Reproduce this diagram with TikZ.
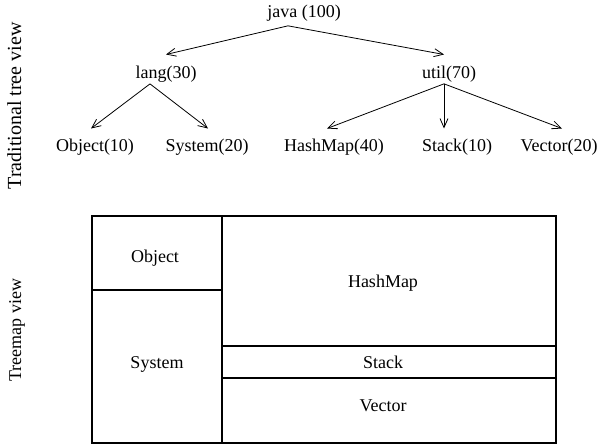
\documentclass[tikz,border=0pt]{standalone}
\usepackage{fontspec}
\setmainfont{Liberation Serif}
\usetikzlibrary{arrows.meta}
\begin{document}
\begin{tikzpicture}[x=1pt,y=-1pt,
  lbl/.style={font=\fontsize{18}{20}\selectfont, inner sep=0pt, outer sep=0pt, anchor=base},
  arr/.style={line width=0.8pt, -{Straight Barb[length=9pt,width=8pt]}},
  box/.style={line width=1.1pt}]
\useasboundingbox (0,0) rectangle (605,444);
% side labels
\node[lbl, rotate=90, font=\fontsize{20}{22}\selectfont] (tlab) at (21,106) {Traditional tree view};
\node[lbl, rotate=90] (mlab) at (21,330) {Treemap view};
% tree
\node[lbl] (java) at (304,18) {java (100)};
\node[lbl] (lang) at (166,78) {lang(30)};
\node[lbl] (util) at (449,78) {util(70)};
\node[lbl] (obj) at (95,151) {Object(10)};
\node[lbl] (sys) at (207,151) {System(20)};
\node[lbl] (hash) at (334,151) {HashMap(40)};
\node[lbl] (stack) at (457,151) {Stack(10)};
\node[lbl] (vec) at (559,151) {Vector(20)};
\coordinate (japex) at ([xshift=-16pt,yshift=-4pt]java.south);
\coordinate (lapex) at ([xshift=-16pt,yshift=-2pt]lang.south);
\coordinate (uapex) at ([xshift=-5pt,yshift=-2pt]util.south);
\draw[arr] (japex) -- ([yshift=11pt]lang.north);
\draw[arr] (japex) -- ([xshift=-5pt,yshift=11pt]util.north);
\draw[arr] (lapex) -- ([xshift=-4pt,yshift=10pt]obj.north);
\draw[arr] (lapex) -- ([xshift=1pt,yshift=10pt]sys.north);
\draw[arr] (uapex) -- ([xshift=-7pt,yshift=10pt]hash.north);
\draw[arr] (uapex) -- ([xshift=-13pt,yshift=10pt]stack.north);
\draw[arr] (uapex) -- ([xshift=3pt,yshift=10pt]vec.north);
% treemap
\draw[box] (92,216) rectangle (556,443);
\draw[box] (222,216) -- (222,443);
\draw[box] (92,290) -- (222,290);
\draw[box] (222,346) -- (556,346);
\draw[box] (222,378) -- (556,378);
\node[lbl] (tobj) at (155,262) {Object};
\node[lbl] (thash) at (383,287) {HashMap};
\node[lbl] (tsys) at (157,368) {System};
\node[lbl] (tstack) at (383,368) {Stack};
\node[lbl] (tvec) at (383,411) {Vector};
\end{tikzpicture}
\end{document}
